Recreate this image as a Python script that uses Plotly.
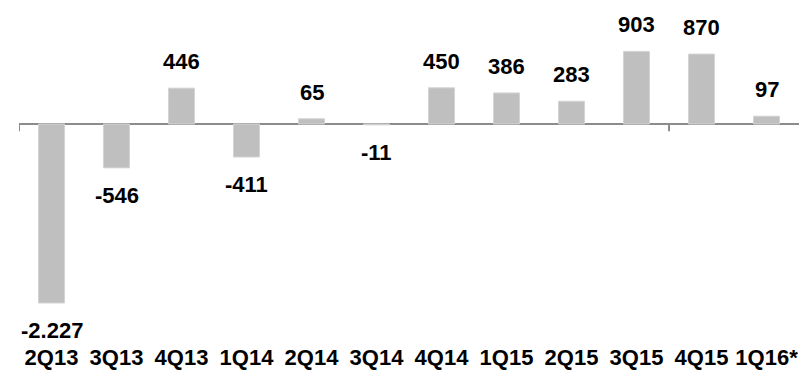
import plotly.graph_objects as go

# quarterly values
quarters = ["2Q13", "3Q13", "4Q13", "1Q14", "2Q14", "3Q14",
            "4Q14", "1Q15", "2Q15", "3Q15", "4Q15", "1Q16*"]
values = [-2227, -546, 446, -411, 65, -11, 450, 386, 283, 903, 870, 97]

labels = [f"{v:,}".replace(",", ".") for v in values]

fig = go.Figure()
fig.add_trace(go.Bar(x=quarters, y=values, width=0.4,
                     marker_color="#BFBFBF",
                     marker_line_color="#D4D4D4", marker_line_width=1,
                     hoverinfo="x+y"))

# data labels above/below the bars
for q, v, t in zip(quarters, values, labels):
    fig.add_annotation(x=q, y=v, text=t, showarrow=False,
                       yanchor="bottom" if v >= 0 else "top",
                       yshift=12 if v >= 0 else -13,
                       font=dict(family="Arial, Liberation Sans", size=22,
                                 color="black", weight="bold"))

# small tick marks on the zero line
for xt in [-0.5, 9.5]:
    fig.add_shape(type="line", xref="x", yref="y", x0=xt, x1=xt,
                  y0=0, y1=-90, line=dict(color="#8C8C8C", width=2))

# page body has ~8px margin, so margins are shifted to compensate
fig.update_layout(
    width=807, height=382,
    margin=dict(l=11, r=16, t=2, b=50),
    plot_bgcolor="white", paper_bgcolor="white",
    showlegend=False, bargap=0.6,
    font=dict(family="Arial, Liberation Sans", size=21, color="black"),
)
fig.update_xaxes(range=[-0.5, 11.5], showline=False, showgrid=False,
                 ticks="", tickfont=dict(size=22, weight="bold"),
                 ticklabelstandoff=2)
fig.update_yaxes(range=[-2687, 1418], showticklabels=False, showgrid=False,
                 zeroline=True, zerolinecolor="#8C8C8C", zerolinewidth=2,
                 showline=False)

fig.write_html("out.html")
